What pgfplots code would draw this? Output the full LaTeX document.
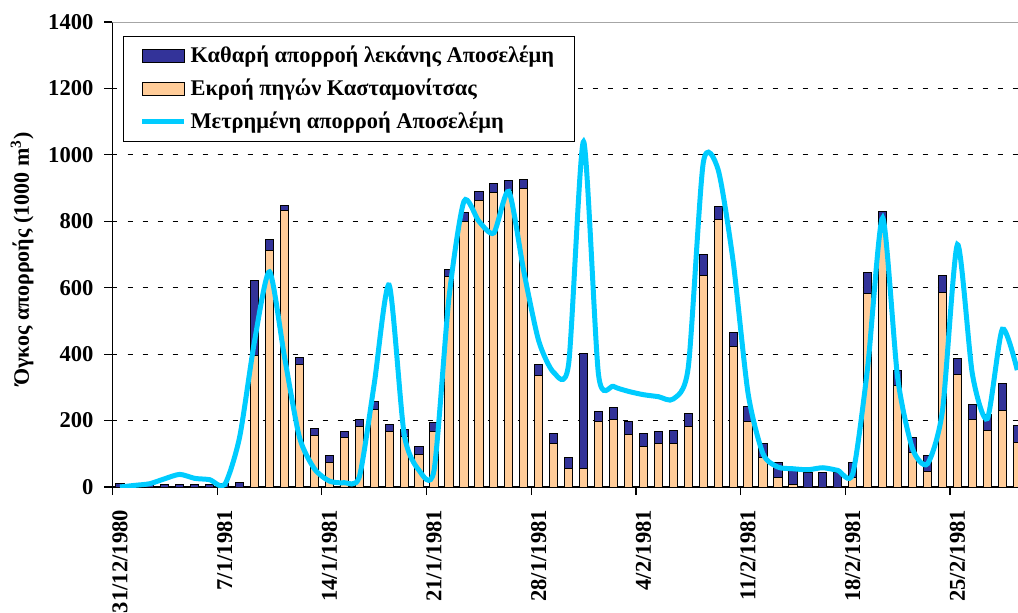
\documentclass[border=0pt]{standalone}
\usepackage{fontspec}
\setmainfont{Liberation Serif}
\usepackage{pgfplots}
\usepackage{pgfplotstable}
\pgfplotsset{compat=1.18}
\definecolor{navyb}{HTML}{333399}
\definecolor{peach}{HTML}{FFCC99}
\definecolor{cyanl}{HTML}{00CCFF}

\pgfplotstableread{
k orange total line
0 0 10 0
1 0 8 5
2 0 8 10
3 0 8 25
4 0 8 38
5 0 8 26
6 0 8 22
7 0 12 7
8 0 13 150
9 397 623 440
10 713 746 648
11 831 849 392
12 369 389 150
13 156 176 55
14 75 95 18
15 149 168 13
16 183 203 30
17 233 256 310
18 166 189 608
19 153 173 160
20 98 123 50
21 166 193 50
22 633 655 570
23 799 827 860
24 862 889 800
25 886 915 765
26 892 922 890
27 900 927 650
28 337 370 440
29 131 161 345
30 57 88 370
31 57 402 1040
32 198 228 338
33 203 239 303
34 158 198 288
35 121 161 278
36 131 166 272
37 131 171 265
38 181 221 360
39 636 700 975
40 804 844 955
41 424 465 680
42 198 243 282
43 89 131 100
44 30 75 60
45 7 50 55
46 0 43 52
47 0 43 58
48 0 43 50
49 30 75 40
50 584 646 362
51 780 830 810
52 307 352 330
53 103 148 115
54 48 94 70
55 587 637 230
56 339 387 730
57 203 249 340
58 171 218 206
59 231 312 475
60 134 184 352
}\data

\begin{document}
\begin{tikzpicture}[x=1pt,y=1pt]
\useasboundingbox (0,0) rectangle (509,306);
\clip (0,0) rectangle (509,306);
\begin{axis}[
  at={(56.25pt,62.5pt)}, anchor=south west,
  scale only axis, width=452.75pt, height=232.5pt,
  xmin=-0.5, xmax=60.05, ymin=0, ymax=1400,
  axis x line*=bottom, axis y line*=left,
  axis line style={-, black, line width=0.6pt},
  tick align=outside, major tick length=4pt,
  tick style={black, line width=0.6pt},
  ytick={0,200,...,1400},
  ymajorgrids,
  grid style={black, line width=0.5pt, dash pattern=on 2.5pt off 5pt},
  xtick={-0.5,6.5,...,56},
  xticklabels={31/12/1980,7/1/1981,14/1/1981,21/1/1981,28/1/1981,4/2/1981,11/2/1981,18/2/1981,25/2/1981},
  x tick label style={xshift=3.74pt, yshift=-4pt, rotate=90, anchor=east},
  y tick label style={/pgf/number format/1000 sep={}, xshift=-2pt},
  /pgf/number format/assume math mode=true,
  tick label style={font=\bfseries\fontsize{11.3}{13}\selectfont},
  ylabel={\bfseries Όγκος απορροής (1000 m\textsuperscript{3})},
  ylabel style={font=\fontsize{11}{13}\selectfont, at={(axis description cs:-0.0999,0.49)}, anchor=center},
  legend style={at={(axis description cs:0.0116,0.9705)}, anchor=north west,
    draw=black, line width=0.6pt, inner xsep=8pt, inner ysep=3pt,
    font=\bfseries\fontsize{11.2}{12}\selectfont, row sep=2.5pt,
    /tikz/every even column/.append style={column sep=0pt}},
  legend cell align=left,
]
\addplot[ybar, bar width=0.55, bar shift=0pt, fill=navyb, draw=black, line width=0.5pt, forget plot]
  table[x=k, y=total]{\data};
\addplot[ybar, bar width=0.55, bar shift=0pt, fill=peach, draw=black, line width=0.5pt, forget plot]
  table[x=k, y=orange]{\data};
\addplot[cyanl, line width=2.5pt, smooth, tension=0.42, forget plot] table[x=k, y=line]{\data};
\draw[gray!70, line width=0.6pt] (rel axis cs:0,1) -- (rel axis cs:1,1);

\addlegendimage{legend image code/.code={\draw[fill=navyb, draw=black, line width=0.5pt] (0pt,-3.25pt) rectangle (21pt,3.25pt);}}
\addlegendentry{Καθαρή απορροή λεκάνης Αποσελέμη\hspace{4pt}}
\addlegendimage{legend image code/.code={\draw[fill=peach, draw=black, line width=0.5pt] (0pt,-3.25pt) rectangle (21pt,3.25pt);}}
\addlegendentry{Εκροή πηγών Κασταμονίτσας}
\addlegendimage{legend image code/.code={\draw[cyanl, line width=2.5pt] (0pt,0pt) -- (21pt,0pt);}}
\addlegendentry{Μετρημένη απορροή Αποσελέμη}
\end{axis}
\end{tikzpicture}
\end{document}
